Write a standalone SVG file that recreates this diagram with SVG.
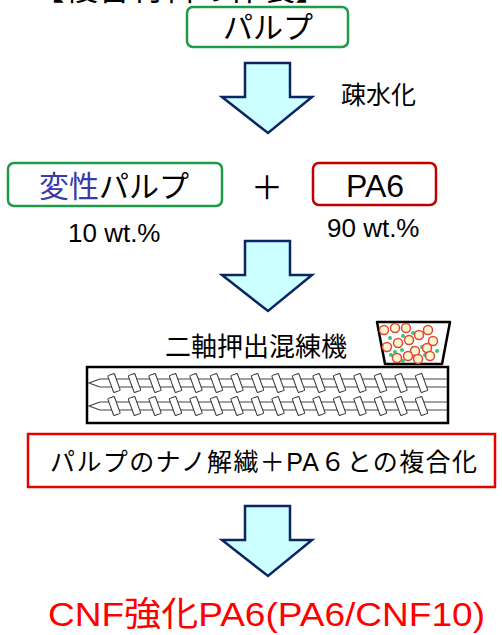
<svg xmlns="http://www.w3.org/2000/svg" width="502" height="635" viewBox="0 0 502 635">
  <style>
    .jp { font-family: "Liberation Sans", "Noto Sans CJK JP", sans-serif; fill: #000; }
    .box { fill: #fff; stroke-width: 2.5; }
    .arrow { fill: #ccffff; stroke: #0b2463; stroke-width: 2.5; stroke-linejoin: miter; }
    .flight { fill: #fff; stroke: #333; stroke-width: 1; }
    .shaft { stroke: #444; stroke-width: 1.2; fill: none; }
    .pellet { fill: #fff6cc; stroke: #e0453a; stroke-width: 1.5; }
    .dot { fill: #3ec46d; }
  </style>
  <defs>
    <!-- down arrow, origin at the top-left of its shaft -->
    <path id="downArrow" d="M0,0 H45 V34 H67 L23,70 L-23,34 H0 Z"/>
    <!-- one screw flight -->
    <rect id="flight" x="-3.5" y="-9" width="7" height="18" rx="1"/>
    <!-- one screw: shaft, pointed tip and 16 flights -->
    <g id="screw">
      <path class="shaft" d="M100,0 H447 M100,8 H447 M100,0 L89,4 L100,8"/>
      <g class="flight">
        <use href="#flight" transform="translate(114,4) rotate(-20)"/>
        <use href="#flight" transform="translate(134.5,4) rotate(-20)"/>
        <use href="#flight" transform="translate(155,4) rotate(-20)"/>
        <use href="#flight" transform="translate(175.5,4) rotate(-20)"/>
        <use href="#flight" transform="translate(196,4) rotate(-20)"/>
        <use href="#flight" transform="translate(216.5,4) rotate(-20)"/>
        <use href="#flight" transform="translate(237,4) rotate(-20)"/>
        <use href="#flight" transform="translate(257.5,4) rotate(-20)"/>
        <use href="#flight" transform="translate(278,4) rotate(-20)"/>
        <use href="#flight" transform="translate(298.5,4) rotate(-20)"/>
        <use href="#flight" transform="translate(319,4) rotate(-20)"/>
        <use href="#flight" transform="translate(339.5,4) rotate(-20)"/>
        <use href="#flight" transform="translate(360,4) rotate(-20)"/>
        <use href="#flight" transform="translate(380.5,4) rotate(-20)"/>
        <use href="#flight" transform="translate(401,4) rotate(-20)"/>
        <use href="#flight" transform="translate(421.5,4) rotate(-20)"/>
      </g>
    </g>
  </defs>

  <rect width="502" height="635" fill="#fff"/>

  <!-- heading (cut off at the top edge) -->
  <text class="jp" x="32" y="0" font-size="32" textLength="296" lengthAdjust="spacingAndGlyphs">【複合材料の作製】</text>

  <g id="pulp">
    <rect class="box" x="187" y="7" width="161" height="40" rx="6" stroke="#1e9a48"/>
    <text class="jp" x="268" y="38" font-size="30" text-anchor="middle">パルプ</text>
  </g>

  <g id="connectors">
    <use href="#downArrow" class="arrow" x="245" y="63"/>
    <use href="#downArrow" class="arrow" x="245" y="241"/>
    <use href="#downArrow" class="arrow" x="245" y="506"/>
  </g>

  <g id="hydrophobize-label">
    <text class="jp" x="341" y="104" font-size="25">疎水化</text>
  </g>

  <g id="modified-pulp">
    <rect class="box" x="8" y="163" width="214" height="43" rx="6" stroke="#1e9a48"/>
    <text class="jp" x="39" y="197" font-size="30"><tspan fill="#3a3aa8">変性</tspan>パルプ</text>
    <text class="jp" x="68" y="242" font-size="26">10 wt.%</text>
  </g>

  <g id="plus">
    <text x="267" y="199" font-size="32" text-anchor="middle" font-family="'Noto Sans CJK JP', sans-serif">＋</text>
  </g>

  <g id="pa6">
    <rect class="box" x="313" y="163" width="123" height="42" rx="6" stroke="#c00000"/>
    <text class="jp" x="375" y="197" font-size="32" text-anchor="middle">PA6</text>
    <text class="jp" x="327" y="237" font-size="26">90 wt.%</text>
  </g>

  <g id="extruder">
    <text class="jp" x="165" y="356" font-size="26">二軸押出混練機</text>
    <!-- hopper with pellets and fibres -->
    <path d="M377,322 H450 L442,364 H385 Z" fill="#fff" stroke="#000" stroke-width="2.5" stroke-linejoin="round"/>
    <g class="dot">
      <circle cx="390" cy="338" r="2"/><circle cx="403" cy="336" r="2"/><circle cx="413" cy="333" r="2"/>
      <circle cx="432" cy="340" r="2"/><circle cx="422" cy="347" r="2"/><circle cx="413" cy="348" r="2"/>
      <circle cx="402" cy="350" r="2"/><circle cx="395" cy="352" r="2"/><circle cx="391" cy="355" r="2"/>
      <circle cx="403" cy="361" r="2"/><circle cx="425" cy="355" r="2"/><circle cx="437" cy="351" r="2"/>
      <circle cx="408" cy="343" r="2"/>
    </g>
    <g class="pellet">
      <circle cx="384" cy="330" r="4.5"/><circle cx="395" cy="328" r="4.5"/><circle cx="406" cy="328" r="4.5"/>
      <circle cx="428" cy="330" r="4.5"/><circle cx="419" cy="335" r="4.5"/><circle cx="409" cy="340" r="4.5"/>
      <circle cx="398" cy="343" r="4.5"/><circle cx="387" cy="347" r="4.5"/><circle cx="433" cy="341" r="4.5"/>
      <circle cx="427" cy="348" r="4.5"/><circle cx="415" cy="351" r="4.5"/><circle cx="397" cy="358" r="4.5"/>
      <circle cx="408" cy="356" r="4.5"/><circle cx="418" cy="359" r="4.5"/><circle cx="430" cy="356" r="4.5"/>
    </g>
    <!-- barrel with twin screws -->
    <rect x="87" y="367" width="361" height="56" fill="#fff" stroke="#000" stroke-width="2.5"/>
    <use href="#screw" y="379"/>
    <use href="#screw" y="402"/>
  </g>

  <g id="nanofibrillation">
    <rect class="box" x="28" y="434" width="467" height="53" stroke="#e60000" stroke-width="2"/>
    <text class="jp" x="50" y="471" font-size="25" textLength="427" lengthAdjust="spacing">パルプのナノ解繊＋PA６との複合化</text>
  </g>

  <g id="result">
    <text class="jp" x="48" y="626" font-size="34" style="fill:#ff0000" textLength="437" lengthAdjust="spacingAndGlyphs">CNF強化PA6(PA6/CNF10)</text>
  </g>
</svg>
